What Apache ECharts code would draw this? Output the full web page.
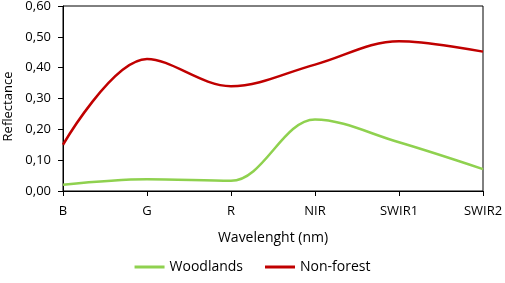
<!DOCTYPE html>
<html>
<head>
<meta charset="utf-8">
<script src="https://cdn.jsdelivr.net/npm/echarts@6/dist/echarts.min.js"></script>
<style>
  html, body { margin: 0; padding: 0; background: #fff; }
  #chart { width: 505px; height: 283px; }
</style>
</head>
<body>
<div id="chart"></div>
<script>
// bands on the x axis
const bands = ['B', 'G', 'R', 'NIR', 'SWIR1', 'SWIR2'];
// reflectance
const woodlands = [0.02, 0.038, 0.033, 0.232, 0.158, 0.071];
const nonForest = [0.15, 0.428, 0.34, 0.41, 0.486, 0.452];

const font = 'Open Sans';
const chart = echarts.init(document.getElementById('chart'));

chart.setOption({
    animation: false,
    textStyle: { fontFamily: font },
    grid: {
        left: 63, right: 22, top: 6, bottom: 92,
        outerBoundsMode: 'none',
        containLabel: false,
        show: true, borderColor: '#000', borderWidth: 1
    },
    legend: {
        bottom: 4,
        left: 'center',
        icon: 'rect',
        itemWidth: 30,
        itemHeight: 3,
        itemGap: 22,
        textStyle: { fontFamily: font, fontSize: 14, color: '#000' },
        data: ['Woodlands', 'Non-forest']
    },
    xAxis: {
        type: 'category',
        data: bands,
        boundaryGap: false,
        name: 'Wavelenght (nm)',
        nameLocation: 'middle',
        nameGap: 40,
        nameTextStyle: { fontFamily: font, fontSize: 14, color: '#000' },
        axisLine: { lineStyle: { color: '#000', width: 1 } },
        axisTick: { show: true, length: 5, lineStyle: { color: '#000' } },
        axisLabel: { color: '#000', fontSize: 13, margin: 14 },
        splitLine: { show: false }
    },
    yAxis: {
        type: 'value',
        min: 0, max: 0.6, interval: 0.1,
        name: 'Reflectance',
        nameLocation: 'middle',
        nameGap: 44,
        nameTextStyle: { fontFamily: font, fontSize: 13, color: '#000', padding: [0, 16, 0, 0] },
        axisLine: { show: true, lineStyle: { color: '#000', width: 1 } },
        axisTick: { show: true, length: 5, lineStyle: { color: '#000' } },
        axisLabel: {
            color: '#000', fontSize: 13, margin: 12,
            formatter: function (v) { return v.toFixed(2).replace('.', ','); }
        },
        splitLine: { show: false }
    },
    series: [{
        name: 'Woodlands',
        type: 'line',
        data: woodlands,
        smooth: 0.35,
        symbol: 'none',
        lineStyle: { color: '#8fd14f', width: 2.5 },
        itemStyle: { color: '#8fd14f' }
    }, {
        name: 'Non-forest',
        type: 'line',
        data: nonForest,
        smooth: 0.35,
        symbol: 'none',
        lineStyle: { color: '#c00000', width: 2.5 },
        itemStyle: { color: '#c00000' }
    }]
});
</script>
</body>
</html>
